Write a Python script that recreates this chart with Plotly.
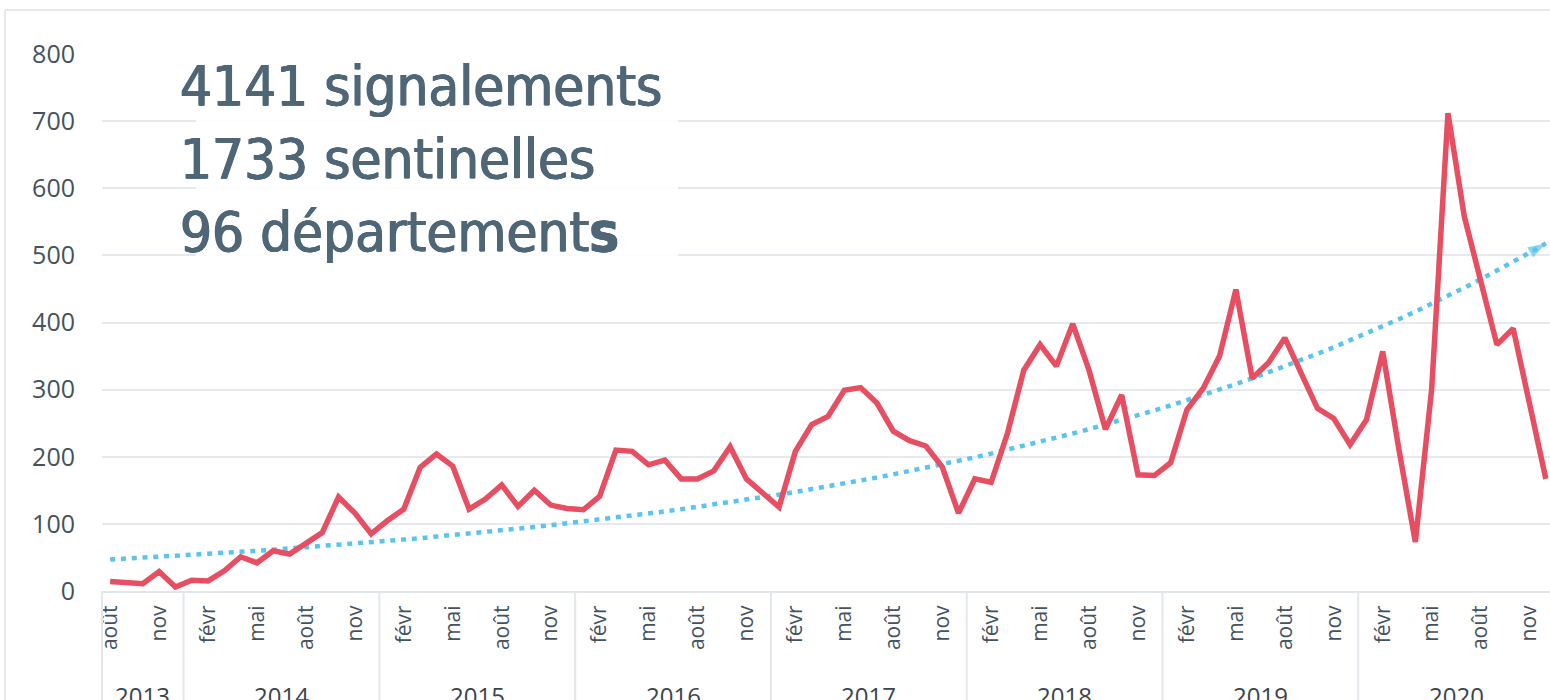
import numpy as np
import plotly.graph_objects as go

# ---- data -------------------------------------------------------------
month_names = ["janv", "févr", "mars", "avr", "mai", "juin",
               "juil", "août", "sept", "oct", "nov", "déc"]
start_year = 2013
start_month = 8  # août 2013

signalements = [
    14, 12.5, 11, 29, 6,                                   # 2013 (août-déc)
    16, 15, 30, 51, 42, 60, 55, 71, 87, 140, 116, 85,       # 2014
    105, 122, 184, 204, 186, 122, 137, 158, 126, 150, 128, 123,  # 2015
    121, 141, 210, 208, 188, 195, 167, 167, 179, 215, 167, 146,  # 2016
    125, 208, 248, 260, 299, 303, 280, 238, 224, 216, 185, 116,  # 2017
    167, 162, 235, 329, 367, 335, 398, 329, 241, 292, 173, 172,  # 2018
    191, 270, 302, 350, 449, 317, 340, 377, 322, 272, 257, 218,  # 2019
    255, 357, 210, 73, 300, 712, 558, 465, 367, 391, 280, 167,   # 2020
]
labelled_months = ["févr", "mai", "août", "nov"]
y_ticks = [0, 100, 200, 300, 400, 500, 600, 700, 800]
headline = ["4141 signalements", "1733 sentinelles", "96 département<b>s</b>"]

# ---- derived -------------------------------------------------------------
n = len(signalements)
idx = list(range(n))
month_of = [month_names[(start_month - 1 + i) % 12] for i in idx]
year_of = [start_year + (start_month - 1 + i) // 12 for i in idx]
tick_vals = [i for i in idx if month_of[i] in labelled_months]
tick_text = [month_of[i] for i in tick_vals]

# exponential trend line (least squares on log values)
b, a = np.polyfit(idx, np.log(signalements), 1)
trend = np.exp(a + b * np.array(idx))

RED = "#e84e62"
BLUE = "#5ac4f0"
GRID = "#e6e9ed"
TXT = "#44525e"
HEAD = "#4f6676"

fig = go.Figure()
fig.add_trace(go.Scatter(
    x=idx, y=trend, mode="lines+markers",
    line=dict(color=BLUE, width=4.5, dash="5px,5.8px"),
    marker=dict(symbol="arrow", angleref="previous", color=BLUE,
                size=[0] * (n - 1) + [19], line=dict(width=0)),
    hoverinfo="skip", showlegend=False, cliponaxis=False,
))
fig.add_trace(go.Scatter(
    x=idx, y=signalements, mode="lines",
    line=dict(color=RED, width=5.5, shape="linear"),
    showlegend=False,
))

L, T, PW, PH = 102, 54, 1452, 537   # plot area in screen pixels
H = 700


def px_x(p):
    return (p - L) / PW


def px_y(p):
    return (T + PH - p) / PH


shapes = []
years = sorted(set(year_of))
bounds = [-0.5] + [max(i for i in idx if year_of[i] == y) + 0.5 for y in years]
for bnd in bounds:
    xp = (bnd + 0.5) / n
    shapes.append(dict(type="line", xref="paper", yref="paper",
                       x0=xp, x1=xp, y0=0, y1=-0.3,
                       line=dict(color="#e3e7eb", width=2)))
# container border (left / top)
shapes.append(dict(type="line", xref="paper", yref="paper",
                   x0=px_x(5), x1=px_x(5), y0=px_y(10), y1=-0.3,
                   line=dict(color=GRID, width=2)))
shapes.append(dict(type="line", xref="paper", yref="paper",
                   x0=px_x(5), x1=1.02, y0=px_y(10), y1=px_y(10),
                   line=dict(color=GRID, width=2)))
# white panel behind headline
shapes.append(dict(type="rect", xref="paper", yref="paper",
                   x0=px_x(196), x1=px_x(678), y0=px_y(263), y1=px_y(44),
                   fillcolor="white", opacity=0.9, line=dict(width=0),
                   layer="above"))

annotations = []
for y in years:
    members = [i for i in idx if year_of[i] == y]
    xc = (sum(members) / len(members) + 0.5) / n
    annotations.append(dict(text=str(y), xref="paper", yref="paper",
                            x=xc, y=px_y(677), xanchor="center", yanchor="top",
                            showarrow=False,
                            font=dict(family="Open Sans", size=24, color="#3a444e")))
annotations.append(dict(
    text="<br>".join(headline), xref="paper", yref="paper",
    x=px_x(178), y=px_y(51), xanchor="left", yanchor="top", align="left",
    showarrow=False,
    font=dict(family="DejaVu Sans Condensed, DejaVu Sans", size=56, color=HEAD,
              shadow=f"0.7px 0 0 {HEAD}, -0.7px 0 0 {HEAD}, 0 0.4px 0 {HEAD}"),
))

fig.update_layout(
    width=L + PW, height=H,
    margin=dict(l=L, r=0, t=T, b=H - T - PH),
    paper_bgcolor="white", plot_bgcolor="white",
    shapes=shapes, annotations=annotations,
    xaxis=dict(range=[-0.5, n - 0.5], tickvals=tick_vals, ticktext=tick_text,
               tickangle=-90, showgrid=False, zeroline=False,
               showline=True, linecolor="#e3e7eb", linewidth=2,
               tickfont=dict(family="Open Sans", size=21, color=TXT),
               ticks="", ticklabelstandoff=4),
    yaxis=dict(range=[0, 800], tickvals=y_ticks, showgrid=True, gridcolor=GRID,
               gridwidth=2, zeroline=False, showline=False,
               tickfont=dict(family="Open Sans", size=25, color=TXT),
               ticks="", ticklabelstandoff=26),
)

# place the figure at the window origin, without scrollbars
fig.write_html(
    "out.html",
    config={"displayModeBar": False},
    post_script="document.body.style.margin='0';"
                "document.documentElement.style.overflow='hidden';"
                "document.body.style.overflow='hidden';",
)
